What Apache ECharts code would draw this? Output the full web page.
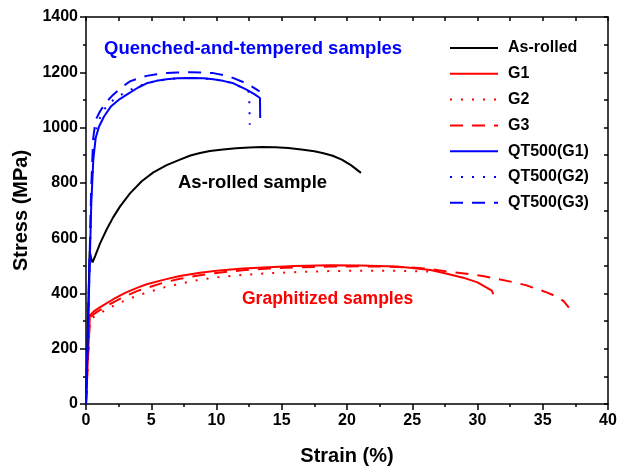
<!DOCTYPE html>
<html>
<head>
<meta charset="utf-8">
<style>
	html, body { margin: 0; padding: 0; background: #fff; }
	#chart { width: 620px; height: 471px; }
</style>
<script src="https://cdn.jsdelivr.net/npm/echarts@6/dist/echarts.min.js"></script>
</head>
<body>
<div id="chart"></div>
<script>
// tick values
var strainTicks = [0, 5, 10, 15, 20, 25, 30, 35, 40];
var stressTicks = [0, 200, 400, 600, 800, 1000, 1200, 1400];

// As-rolled
var asRolledStrain = [0, 0.15, 0.28, 0.4, 0.5, 0.7, 1.07, 1.59, 2.09, 2.6, 3.37, 4.27, 5.16, 6.18, 7.2, 8.0, 8.74, 9.5, 10.5, 11.5, 12.5, 13.5, 14.5, 15.5, 16.5, 17.5, 18.2, 18.9, 19.6, 20.3, 21.07];
var asRolledStress = [0, 300, 555, 525, 512, 535, 580, 632, 676, 714, 762, 806, 838, 864, 884, 899, 908, 915, 921, 925, 928, 930, 929, 926, 921, 914, 907, 898, 884, 864, 836];

// graphitized
var g1Strain = [0, 0.15, 0.3, 0.6, 1.0, 1.5, 2.09, 3, 4, 4.65, 6, 7.2, 8.74, 10, 12, 14, 16, 18.7, 21, 23.8, 25, 26.4, 27.5, 28.9, 30, 30.7, 31.1, 31.2];
var g1Stress = [0, 170, 320, 335, 348, 362, 379, 402, 422, 433, 450, 463, 475, 482, 490, 495, 499, 502, 501, 497, 492, 485, 473, 457, 440, 421, 410, 397];
var g2Strain = [0, 0.15, 0.3, 0.6, 1.0, 1.5, 2.09, 3, 4, 5, 6, 7.2, 8.74, 10, 12, 14, 16, 18.7, 21, 23, 25, 26.2, 26.6];
var g2Stress = [0, 160, 305, 315, 327, 340, 355, 375, 393, 408, 422, 435, 450, 458, 467, 473, 477, 481, 482, 482, 481, 479, 474];
var g3Strain = [0, 0.15, 0.3, 0.6, 1.0, 1.5, 2.09, 3, 4, 5, 6, 7.2, 8.74, 10, 12, 14, 16, 18.7, 21, 23, 25, 26.1, 27.9, 29, 30.4, 31.5, 32.7, 33.7, 34.5, 35.3, 36.1, 36.6, 37.0];
var g3Stress = [0, 165, 312, 325, 338, 352, 368, 390, 410, 425, 440, 453, 466, 474, 484, 490, 494, 497, 498, 497, 494, 490, 478, 472, 463, 453, 441, 430, 417, 404, 388, 372, 349];

// quenched and tempered
var qt1Strain = [0, 0.2, 0.4, 0.56, 0.74, 1.0, 1.38, 1.9, 2.5, 3.12, 4.0, 4.65, 5.4, 6.18, 7, 8.0, 9, 9.75, 10.5, 11.3, 12.3, 12.9, 13.33, 13.35];
var qt1Stress = [0, 350, 720, 884, 962, 1004, 1040, 1076, 1100, 1119, 1145, 1160, 1169, 1175, 1178, 1179, 1178, 1175, 1169, 1160, 1137, 1121, 1107, 1035];
var qt2Strain = [0, 0.2, 0.4, 0.55, 0.7, 0.9, 1.2, 1.6, 2.1, 3.0, 4.0, 5.0, 6.0, 7.0, 8.0, 9.0, 10.0, 11.0, 11.8, 12.5, 12.55];
var qt2Stress = [0, 360, 740, 900, 975, 1015, 1050, 1080, 1100, 1128, 1150, 1164, 1173, 1178, 1180, 1178, 1173, 1163, 1148, 1128, 1010];
var qt3Strain = [0, 0.2, 0.4, 0.55, 0.74, 1.07, 1.5, 2.09, 2.7, 3.37, 4.0, 4.65, 5.4, 6.18, 7, 8.0, 9, 9.75, 10.5, 11.3, 12.3, 13.3];
var qt3Stress = [0, 380, 780, 960, 1028, 1058, 1090, 1119, 1145, 1167, 1178, 1187, 1193, 1197, 1199, 1200, 1199, 1197, 1190, 1179, 1160, 1131];

var FONT = "'Liberation Sans', Arial, sans-serif";
var RED = '#ff0000', BLUE = '#0000ff';
var DOT = [2, 9], DASH = [13, 9];

function pairs(xs, ys) {
	return xs.map(function (x, i) { return [x, ys[i]]; });
}
function curve(name, xs, ys, color, type) {
	return {
		name: name,
		type: 'line',
		xAxisIndex: 0,
		yAxisIndex: 0,
		symbol: 'none',
		smooth: false,
		animation: false,
		lineStyle: { color: color, width: 2, type: type },
		itemStyle: { color: color },
		data: pairs(xs, ys)
	};
}

var chart = echarts.init(document.getElementById('chart'));
var option = {
	backgroundColor: '#fff',
	animation: false,
	grid: { left: 86, right: 12, top: 17, bottom: 66 },
	legend: {
		orient: 'vertical',
		left: 449,
		top: 40,
		padding: 0,
		itemWidth: 48,
		itemHeight: 14,
		itemGap: 9.8,
		itemStyle: { opacity: 0 },
		textStyle: { fontFamily: FONT, fontSize: 16, fontWeight: 'bold', color: '#000', lineHeight: 16, padding: [0, 0, 0, 5] },
		data: ['As-rolled', 'G1', 'G2', 'G3', 'QT500(G1)', 'QT500(G2)', 'QT500(G3)']
	},
	xAxis: [
		{
			type: 'value', min: 0, max: 40, interval: 5,
			name: 'Strain (%)', nameLocation: 'middle', nameGap: 42,
			nameTextStyle: { fontFamily: FONT, fontSize: 20, fontWeight: 'bold', color: '#000' },
			axisLine: { show: true, lineStyle: { color: '#000', width: 1.5 } },
			axisTick: { show: true, length: 6, lineStyle: { color: '#000', width: 1.5 } },
			minorTick: { show: true, splitNumber: 2, length: 3, lineStyle: { color: '#000', width: 1.5 } },
			axisLabel: { margin: 9, fontFamily: FONT, fontSize: 16, fontWeight: 'bold', color: '#000', formatter: function (v) { return String(v); } },
			splitLine: { show: false }
		},
		{
			type: 'value', min: 0, max: 40, interval: 2.5, position: 'top',
			axisLine: { show: true, onZero: false, lineStyle: { color: '#000', width: 1.5 } },
			axisTick: { show: true, inside: true, length: 4, lineStyle: { color: '#000', width: 1.5 } },
			axisLabel: { show: false },
			splitLine: { show: false }
		}
	],
	yAxis: [
		{
			type: 'value', min: 0, max: 1400, interval: 200,
			name: 'Stress (MPa)', nameLocation: 'middle', nameGap: 51,
			nameTextStyle: { fontFamily: FONT, fontSize: 20, fontWeight: 'bold', color: '#000' },
			axisLine: { show: true, lineStyle: { color: '#000', width: 1.5 } },
			axisTick: { show: true, length: 6, lineStyle: { color: '#000', width: 1.5 } },
			minorTick: { show: true, splitNumber: 2, length: 3, lineStyle: { color: '#000', width: 1.5 } },
			axisLabel: { margin: 8, fontFamily: FONT, fontSize: 16, fontWeight: 'bold', color: '#000', formatter: function (v) { return String(v); } },
			splitLine: { show: false }
		},
		{
			type: 'value', min: 0, max: 1400, interval: 100, position: 'right',
			axisLine: { show: true, onZero: false, lineStyle: { color: '#000', width: 1.5 } },
			axisTick: { show: true, inside: true, length: 4, lineStyle: { color: '#000', width: 1.5 } },
			axisLabel: { show: false },
			splitLine: { show: false }
		}
	],
	graphic: [
		{ type: 'text', left: 104, top: 39, style: { text: 'Quenched-and-tempered samples', fill: BLUE, font: 'bold 18.5px ' + FONT } },
		{ type: 'text', left: 178, top: 173, style: { text: 'As-rolled sample', fill: '#000', font: 'bold 18.5px ' + FONT } },
		{ type: 'text', left: 242, top: 290, style: { text: 'Graphitized samples', fill: RED, font: 'bold 17.5px ' + FONT } }
	],
	series: [
		curve('G1', g1Strain, g1Stress, RED, 'solid'),
		curve('G2', g2Strain, g2Stress, RED, DOT),
		curve('G3', g3Strain, g3Stress, RED, DASH),
		curve('As-rolled', asRolledStrain, asRolledStress, '#000', 'solid'),
		curve('QT500(G1)', qt1Strain, qt1Stress, BLUE, 'solid'),
		curve('QT500(G2)', qt2Strain, qt2Stress, BLUE, DOT),
		curve('QT500(G3)', qt3Strain, qt3Stress, BLUE, DASH)
	]
};
chart.setOption(option);
</script>
</body>
</html>
